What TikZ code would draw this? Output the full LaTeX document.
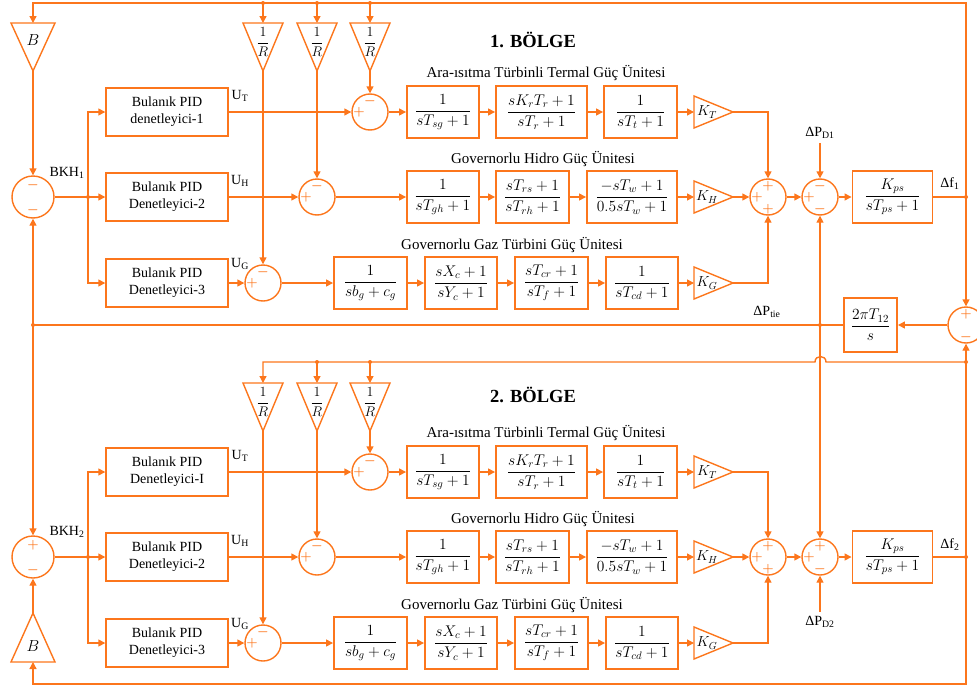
\RequirePackage{fix-cm}
\documentclass[tikz,border=0pt]{standalone}
\usepackage{fontspec}
\setmainfont{Liberation Serif}
\usetikzlibrary{arrows.meta,calc}
\definecolor{org}{RGB}{252,118,28}
\newcommand\gdown[4]{%
  \coordinate (#1-in) at (#2,#3);
  \coordinate (#1-out) at (#2,#3+48);
  \draw[tri] (#2-20,#3) -- (#2+20,#3) -- (#2,#3+48) -- cycle;
  \node[inner sep=0pt,font=\fontsize{14}{14}\selectfont] (#1) at (#2,#3+19) {#4};}
\newcommand\gright[4]{%
  \coordinate (#1-in) at (#2,#3);
  \coordinate (#1-out) at (#2+39,#3);
  \draw[tri] (#2,#3-16) -- (#2+39,#3) -- (#2,#3+16) -- cycle;
  \node[inner sep=0pt,font=\fontsize{14.5}{14}\selectfont] (#1) at (#2+13,#3) {#4};}
\newcommand\sgn[3]{\node[sg] at ($(#1)+(#2)$) {$\boldsymbol{#3}$};}
\newcommand\plant[5]{%
  \node[pid] (#1P1) at (167,112+#2) {Bulanık PID\\#3};
  \node[pid] (#1P2) at (167,197+#2) {Bulanık PID\\#4};
  \node[pid] (#1P3) at (167,283+#2) {Bulanık PID\\#5};
  \node[lab] at (240,96+#2) {U\textsubscript{T}};
  \node[lab] at (240,181+#2) {U\textsubscript{H}};
  \node[lab] at (240,264+#2) {U\textsubscript{G}};
  \coordinate (#1jb) at (88,197+#2);
  \draw[arr] (#1jb) |- (#1P1.west);
  \draw[arr] (#1jb) |- (#1P3.west);
  \node[dot] at (#1jb) {};
  \node[sm] (#1cT) at (370,112+#2) {};
  \node[sm] (#1cH) at (317,197+#2) {};
  \node[sm] (#1cG) at (263,283+#2) {};
  \gdown{#1R1}{263}{23+#2}{$\displaystyle\frac{1}{R}$}
  \gdown{#1R2}{317}{23+#2}{$\displaystyle\frac{1}{R}$}
  \gdown{#1R3}{370}{23+#2}{$\displaystyle\frac{1}{R}$}
  \node[ttl] at (546,73+#2) {Ara-ısıtma Türbinli Termal Güç Ünitesi};
  \node[ttl] at (543,159+#2) {Governorlu Hidro Güç Ünitesi};
  \node[ttl] at (512,245+#2) {Governorlu Gaz Türbini Güç Ünitesi};
  \node[tf,minimum width=72pt] (#1T1) at (443,112+#2) {$\displaystyle\frac{1}{sT_{sg}+1}$};
  \node[tf,minimum width=91pt] (#1T2) at (541.5,112+#2) {$\displaystyle\frac{sK_rT_r+1}{sT_r+1}$};
  \node[tf,minimum width=73pt] (#1T3) at (640.5,112+#2) {$\displaystyle\frac{1}{sT_t+1}$};
  \gright{#1KT}{694}{112+#2}{$K_T$}
  \node[tf,minimum width=72pt] (#1H1) at (443,197+#2) {$\displaystyle\frac{1}{sT_{gh}+1}$};
  \node[tf,minimum width=73pt] (#1H2) at (532.5,197+#2) {$\displaystyle\frac{sT_{rs}+1}{sT_{rh}+1}$};
  \node[tf,minimum width=90pt] (#1H3) at (632,197+#2) {$\displaystyle\frac{-sT_w+1}{0.5sT_w+1}$};
  \gright{#1KH}{694}{197+#2}{$K_H$}
  \node[tf,minimum width=73pt] (#1G1) at (370.5,283+#2) {$\displaystyle\frac{1}{sb_g+c_g}$};
  \node[tf,minimum width=72pt] (#1G2) at (461,283+#2) {$\displaystyle\frac{sX_c+1}{sY_c+1}$};
  \node[tf,minimum width=73pt] (#1G3) at (551.5,283+#2) {$\displaystyle\frac{sT_{cr}+1}{sT_f+1}$};
  \node[tf,minimum width=72pt] (#1G4) at (642,283+#2) {$\displaystyle\frac{1}{sT_{cd}+1}$};
  \gright{#1KG}{694}{283+#2}{$K_G$}
  \node[sm] (#1s1) at (768,197+#2) {};
  \node[sm] (#1s2) at (820,197+#2) {};
  \node[tf,minimum width=80pt] (#1Kps) at (892.5,197+#2) {$\displaystyle\frac{K_{ps}}{sT_{ps}+1}$};
  \draw[arr] (#1P1.east) -- (#1cT.west);
  \draw[arr] (#1P2.east) -- (#1cH.west);
  \draw[arr] (#1P3.east) -- (#1cG.west);
  \draw[arr] (#1R1-out) -- (#1cG.north);
  \draw[arr] (#1R2-out) -- (#1cH.north);
  \draw[arr] (#1R3-out) -- (#1cT.north);
  \draw[arr] (#1cT) -- (#1T1);
  \draw[arr] (#1T1) -- (#1T2);
  \draw[arr] (#1T2) -- (#1T3);
  \draw[arr] (#1T3) -- (#1KT-in);
  \draw[arr] (#1cH) -- (#1H1);
  \draw[arr] (#1H1) -- (#1H2);
  \draw[arr] (#1H2) -- (#1H3);
  \draw[arr] (#1H3) -- (#1KH-in);
  \draw[arr] (#1cG) -- (#1G1);
  \draw[arr] (#1G1) -- (#1G2);
  \draw[arr] (#1G2) -- (#1G3);
  \draw[arr] (#1G3) -- (#1G4);
  \draw[arr] (#1G4) -- (#1KG-in);
  \draw[arr] (#1KT-out) -| (#1s1.north);
  \draw[arr] (#1KH-out) -- (#1s1.west);
  \draw[arr] (#1KG-out) -| (#1s1.south);
  \draw[arr] (#1s1) -- (#1s2);
  \draw[arr] (#1s2) -- (#1Kps);
  \sgn{#1cT}{0,-11}{-}\sgn{#1cT}{-11,0}{+}
  \sgn{#1cH}{0,-11}{-}\sgn{#1cH}{-11,0}{+}
  \sgn{#1cG}{0,-11}{-}\sgn{#1cG}{-11,0}{+}
  \sgn{#1s1}{0,-11}{+}\sgn{#1s1}{-11,0}{+}\sgn{#1s1}{0,12}{+}
  \sgn{#1s2}{-11,0}{+}\sgn{#1s2}{0,12}{-}
}
\usepackage{amsmath,amssymb}
\begin{document}
\begin{tikzpicture}[x=1pt,y=-1pt,
  ln/.style={draw=org,line width=1.4pt},
  arr/.style={ln,-{Triangle[length=7pt,width=7pt]}},
  tri/.style={draw=org,line width=1.4pt,line join=miter},
  tf/.style={draw=org,line width=1.9pt,minimum height=52pt,inner sep=0pt,font=\fontsize{15.5}{17}\selectfont},
  pid/.style={draw=org,line width=1.4pt,minimum width=122pt,minimum height=48pt,inner sep=0pt,align=center,font=\fontsize{14}{17}\selectfont},
  sm/.style={circle,draw=org,line width=1.4pt,minimum size=36pt,inner sep=0pt},
  big/.style={circle,draw=org,line width=1.4pt,minimum size=42pt,inner sep=0pt},
  sg/.style={text=org,font=\fontsize{13}{13}\selectfont,inner sep=0pt},
  lab/.style={font=\fontsize{14}{16}\selectfont,inner sep=0pt},
  ttl/.style={font=\fontsize{15}{17}\selectfont,inner sep=0pt},
  hd/.style={font=\fontsize{18.5}{20}\selectfont\bfseries,inner sep=0pt},
  dot/.style={circle,fill=org,inner sep=0pt,minimum size=4pt}
]
\useasboundingbox (0,0) rectangle (977,688);

\plant{A}{0}{denetleyici-1}{Denetleyici-2}{Denetleyici-3}
\plant{B}{360}{Denetleyici-I}{Denetleyici-2}{Denetleyici-3}

\node[hd] at (533,40) {1. BÖLGE};
\node[hd] at (533,395) {2. BÖLGE};

% area 1 left part
\node[big] (L1) at (33,197) {};
\sgn{L1}{0,-12}{-}\sgn{L1}{0,13}{-}
\coordinate (B1-in) at (33,23);
\coordinate (B1-out) at (33,71);
\draw[tri] (11,23) -- (55,23) -- (33,71) -- cycle;
\node[inner sep=0pt,font=\fontsize{16}{15}\selectfont] (B1) at (33,40) {$B$};
\node[lab] at (67,173) {BKH\textsubscript{1}};
\draw[arr] (B1-out) -- (L1.north);
\draw[arr] (L1.east) -- (AP2.west);

% area 2 left part
\node[big] (L2) at (33,557) {};
\sgn{L2}{0,-12}{+}\sgn{L2}{0,13}{-}
\coordinate (B2-in) at (33,662);
\coordinate (B2-out) at (33,613);
\draw[tri] (11,662) -- (55,662) -- (33,613) -- cycle;
\node[inner sep=0pt,font=\fontsize{16}{15}\selectfont] (B2) at (33,646) {$B$};
\node[lab] at (67,532) {BKH\textsubscript{2}};
\draw[arr] (B2-out) -- (L2.south);
\draw[arr] (L2.east) -- (BP2.west);

% sum 2 signs
\sgn{As2}{0,-11}{-}
\sgn{Bs2}{0,-11}{+}

% disturbances
\node[lab] (pd1) at (820,133) {ΔP\textsubscript{D1}};
\draw[arr] ([yshift=-4pt]pd1.south) -- (As2.north);
\node[lab] (pd2) at (820,622) {ΔP\textsubscript{D2}};
\draw[arr] ([yshift=4pt]pd2.north) -- (Bs2.south);

% frequency outputs
\node[lab] at (950,184) {Δf\textsubscript{1}};
\node[lab] at (950,545) {Δf\textsubscript{2}};
\coordinate (jf1) at (966,197);
\coordinate (jf2) at (966,557);
\coordinate (jr) at (966,362);
\coordinate (t1) at (263,3);
\coordinate (t2) at (317,3);
\coordinate (t3) at (370,3);
\coordinate (u2) at (317,362);
\coordinate (u3) at (370,362);
\coordinate (jtl) at (33,325);
\coordinate (jtm) at (820,325);

% tie-line
\node[sm] (cR) at (966,325) {};
\sgn{cR}{0,-11}{+}\sgn{cR}{0,12}{-}
\node[tf,minimum width=53pt,minimum height=54pt] (tie) at (870.5,325) {$\displaystyle\frac{2\pi T_{12}}{s}$};
\node[lab] at (767,312) {ΔP\textsubscript{tie}};
\draw[arr] (cR.west) -- (tie.east);
\draw[ln] (tie.west) -- (jtl);
\draw[arr] (jtl) -- (L1.south);
\draw[arr] (jtl) -- (L2.north);
\draw[arr] (jtm) -- (As2.south);
\draw[arr] (jtm) -- (Bs2.north);

% area 1 feedback
\draw[ln] (AKps.east) -- (jf1);
\draw[arr] (jf1) |- (33,3) -- (B1-in);
\draw[arr] (jf1) -- (cR.north);
\draw[arr] (t1) -- (AR1-in);
\draw[arr] (t2) -- (AR2-in);
\draw[arr] (t3) -- (AR3-in);

% area 2 feedback
\draw[ln] (BKps.east) -- (jf2);
\draw[arr] (jf2) -- (cR.south);
\draw[arr] (jf2) |- (33,684) -- (B2-in);
\draw[arr] (jr) -- (826,362) .. controls (826,354.7) and (815,354.7) .. (815,362) -- (263,362) -- (BR1-in);
\draw[arr] (u2) -- (BR2-in);
\draw[arr] (u3) -- (BR3-in);

% junction dots
\foreach \p in {jf1,jf2,jr,t1,t2,t3,u2,u3,jtl,jtm}
  \node[dot] at (\p) {};
\end{tikzpicture}
\end{document}
